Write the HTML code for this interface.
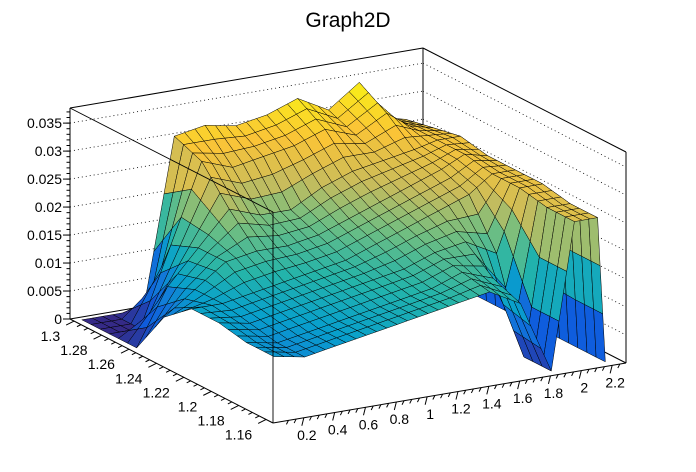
<!DOCTYPE html>
<html><head><meta charset="utf-8">
<style>
html,body{margin:0;padding:0;background:#fff;}
svg{display:block;font-family:"Liberation Sans",sans-serif;}
</style></head>
<body>
<svg id="chart" width="696" height="472" viewBox="0 0 696 472" xmlns="http://www.w3.org/2000/svg">
<text x="348" y="27" text-anchor="middle" font-size="21">Graph2D</text>
<g id="back"></g>
<g id="surf"></g>
<g id="front"></g>
</svg>
<script>
// ---- data ----
const xValues = [0.05,0.25,0.45,0.65,0.85,1.05,1.25,1.45,1.65,1.85,2.0,2.15,2.2];
const yValues = [1.16,1.18,1.20,1.22,1.24,1.26,1.28,1.30];
// z values (x 1e-3), one row per y value (front to back)
const zRow116 = [11,10,11,12,13,14,15,16,13, 0,26,26, 0];
const zRow118 = [11,10,11,12,13,14,15,17,15, 0,26,26, 0];
const zRow120 = [12,11,12,13,14,15,16,18,19,16,27,27, 0];
const zRow122 = [12,12,13,14,15,16,18,20,22,24,27,27, 0];
const zRow124 = [ 8,12,16,17,17,18,20,22,24,26,28,27, 0];
const zRow126 = [ 0,10,16,22,20,20,23,25,26,27,28,28, 0];
const zRow128 = [ 0, 0,14,28,26,27,28,30,28,31,28,27, 0];
const zRow130 = [ 0, 0, 0,30,31,30,31,33,30,34,27,26, 0];
const zRows = [zRow116,zRow118,zRow120,zRow122,zRow124,zRow126,zRow128,zRow130];
const xTicks = [0.2,0.4,0.6,0.8,1,1.2,1.4,1.6,1.8,2,2.2];
const yTicks = [1.16,1.18,1.2,1.22,1.24,1.26,1.28,1.3];
const zTicks = [0,0.005,0.01,0.015,0.02,0.025,0.03,0.035];

// ---- geometry ----
const NS="http://www.w3.org/2000/svg";
const B={x:273,y:423}, A={x:70,y:319}, C={x:626,y:363};
const H=211, xmin=0, xmax=2.29, ymin=1.155, ymax=1.303, zmax=0.0377;
function proj(x,y,z){
  const u=(x-xmin)/(xmax-xmin), v=(y-ymin)/(ymax-ymin);
  return {x:B.x+u*(C.x-B.x)+v*(A.x-B.x), y:B.y+u*(C.y-B.y)+v*(A.y-B.y)-z/zmax*H};
}
function el(tag,attrs,parent){const e=document.createElementNS(NS,tag);for(const k in attrs)e.setAttribute(k,attrs[k]);parent.appendChild(e);return e;}
const back=document.getElementById('back'), surf=document.getElementById('surf'), front=document.getElementById('front');
const D={x:A.x+C.x-B.x,y:A.y+C.y-B.y};
function line(g,p,q,extra,name){const l=el('line',Object.assign({x1:p.x,y1:p.y,x2:q.x,y2:q.y,stroke:'#000','stroke-width':1},extra||{}),g);

return l;}
const up=p=>({x:p.x,y:p.y-H});
line(back,A,up(A),null,'z-axis-line');
line(back,D,up(D),null,'back-edge');
line(back,C,up(C),null,'right-edge');
line(back,up(A),up(D),null,'top-back-edge');
line(back,up(D),up(C),null,'top-right-edge');
line(back,A,D,null,'bottom-back-edge');
line(back,D,C,null,'bottom-right-edge');
zTicks.forEach(z=>{
  const dy=z/zmax*H;
  if(z>0){
    line(back,{x:A.x,y:A.y-dy},{x:D.x,y:D.y-dy},{'stroke-dasharray':'1 3','stroke-width':0.8},'z-gridline');
    line(back,{x:D.x,y:D.y-dy},{x:C.x,y:C.y-dy},{'stroke-dasharray':'1 3','stroke-width':0.8},'z-gridline');
  }
  line(back,{x:A.x,y:A.y-dy},{x:A.x-7,y:A.y-dy},null,'z-tick');
  const t=el('text',{x:62,y:A.y-dy+5,'text-anchor':'end','font-size':14},back);
  t.textContent=String(z);
  
  
});
for(let z=0.001;z<zmax;z+=0.001){const dy=z/zmax*H;line(back,{x:A.x,y:A.y-dy},{x:A.x-3.5,y:A.y-dy},null,'z-minor-tick');}

// ---- surface ----
const stops=[[0,[53,42,135]],[0.12,[15,92,221]],[0.25,[18,125,216]],[0.33,[8,160,204]],[0.42,[36,180,170]],[0.55,[110,190,130]],[0.68,[200,188,92]],[0.82,[250,196,55]],[1,[249,251,14]]];
function color(t){t=Math.max(0,Math.min(1,t));for(let i=1;i<stops.length;i++){if(t<=stops[i][0]){const a=stops[i-1],b=stops[i],f=(t-a[0])/(b[0]-a[0]);return 'rgb('+a[1].map((c,k)=>Math.round(c+(b[1][k]-c)*f)).join(',')+')';}}return 'rgb(249,251,14)';}
const SUB=3;
const cells=[];
for(let j=0;j<yValues.length-1;j++)for(let i=0;i<xValues.length-1;i++)
 for(let b=0;b<SUB;b++)for(let a=0;a<SUB;a++){
  cells.push({i,j,a,b,key:(i+(a+0.5)/SUB)/(xValues.length-1)+(j+(b+0.5)/SUB)/(yValues.length-1)});
 }
cells.sort((p,q)=>q.key-p.key);
function pt(i,j,s,t){
  const z00=zRows[j][i],z10=zRows[j][i+1],z11=zRows[j+1][i+1],z01=zRows[j+1][i];
  const z=((1-s)*(1-t)*z00+s*(1-t)*z10+s*t*z11+(1-s)*t*z01)*1e-3;
  const x=xValues[i]+s*(xValues[i+1]-xValues[i]), y=yValues[j]+t*(yValues[j+1]-yValues[j]);
  return {p:proj(x,y,z),z};
}
cells.forEach(c=>{
  const s0=c.a/SUB,s1=(c.a+1)/SUB,t0=c.b/SUB,t1=(c.b+1)/SUB;
  const q=[pt(c.i,c.j,s0,t0),pt(c.i,c.j,s1,t0),pt(c.i,c.j,s1,t1),pt(c.i,c.j,s0,t1)];
  const avg=(q[0].z+q[1].z+q[2].z+q[3].z)/4;
  const p=el('polygon',{points:q.map(o=>o.p.x.toFixed(1)+','+o.p.y.toFixed(1)).join(' '),fill:color(avg/0.035),stroke:'#000','stroke-width':0.5,'stroke-linejoin':'round'},surf);
  
  
});

// ---- front lines and axes ----
line(front,B,up(B),{'stroke-width':0.9},'front-edge');
line(front,up(A),up(B),{'stroke-width':0.9},'top-left-edge');
line(front,B,C,null,'x-axis-line');
line(front,A,B,null,'y-axis-line');
for(let x=0.1;x<=2.25;x+=0.05){const p=proj(x,ymin,0);const major=Math.abs(x/0.2-Math.round(x/0.2))<0.01;line(front,p,{x:p.x-2,y:p.y+(major?8:4)},null,'x-tick');}
xTicks.forEach(x=>{const p=proj(x,ymin,0);const t=el('text',{x:p.x+3,y:p.y+22,'text-anchor':'middle','font-size':14},front);t.textContent=String(x);

});
for(let y=1.16;y<=1.3001;y+=0.005){const p=proj(xmin,y,0);const major=Math.abs(y/0.02-Math.round(y/0.02))<0.01;line(front,p,{x:p.x-(major?8:4),y:p.y+(major?4:2)},null,'y-tick');}
yTicks.forEach(y=>{const p=proj(xmin,y,0);const t=el('text',{x:p.x-14,y:p.y+20,'text-anchor':'end','font-size':14},front);t.textContent=String(y);

});
</script>
</body></html>
